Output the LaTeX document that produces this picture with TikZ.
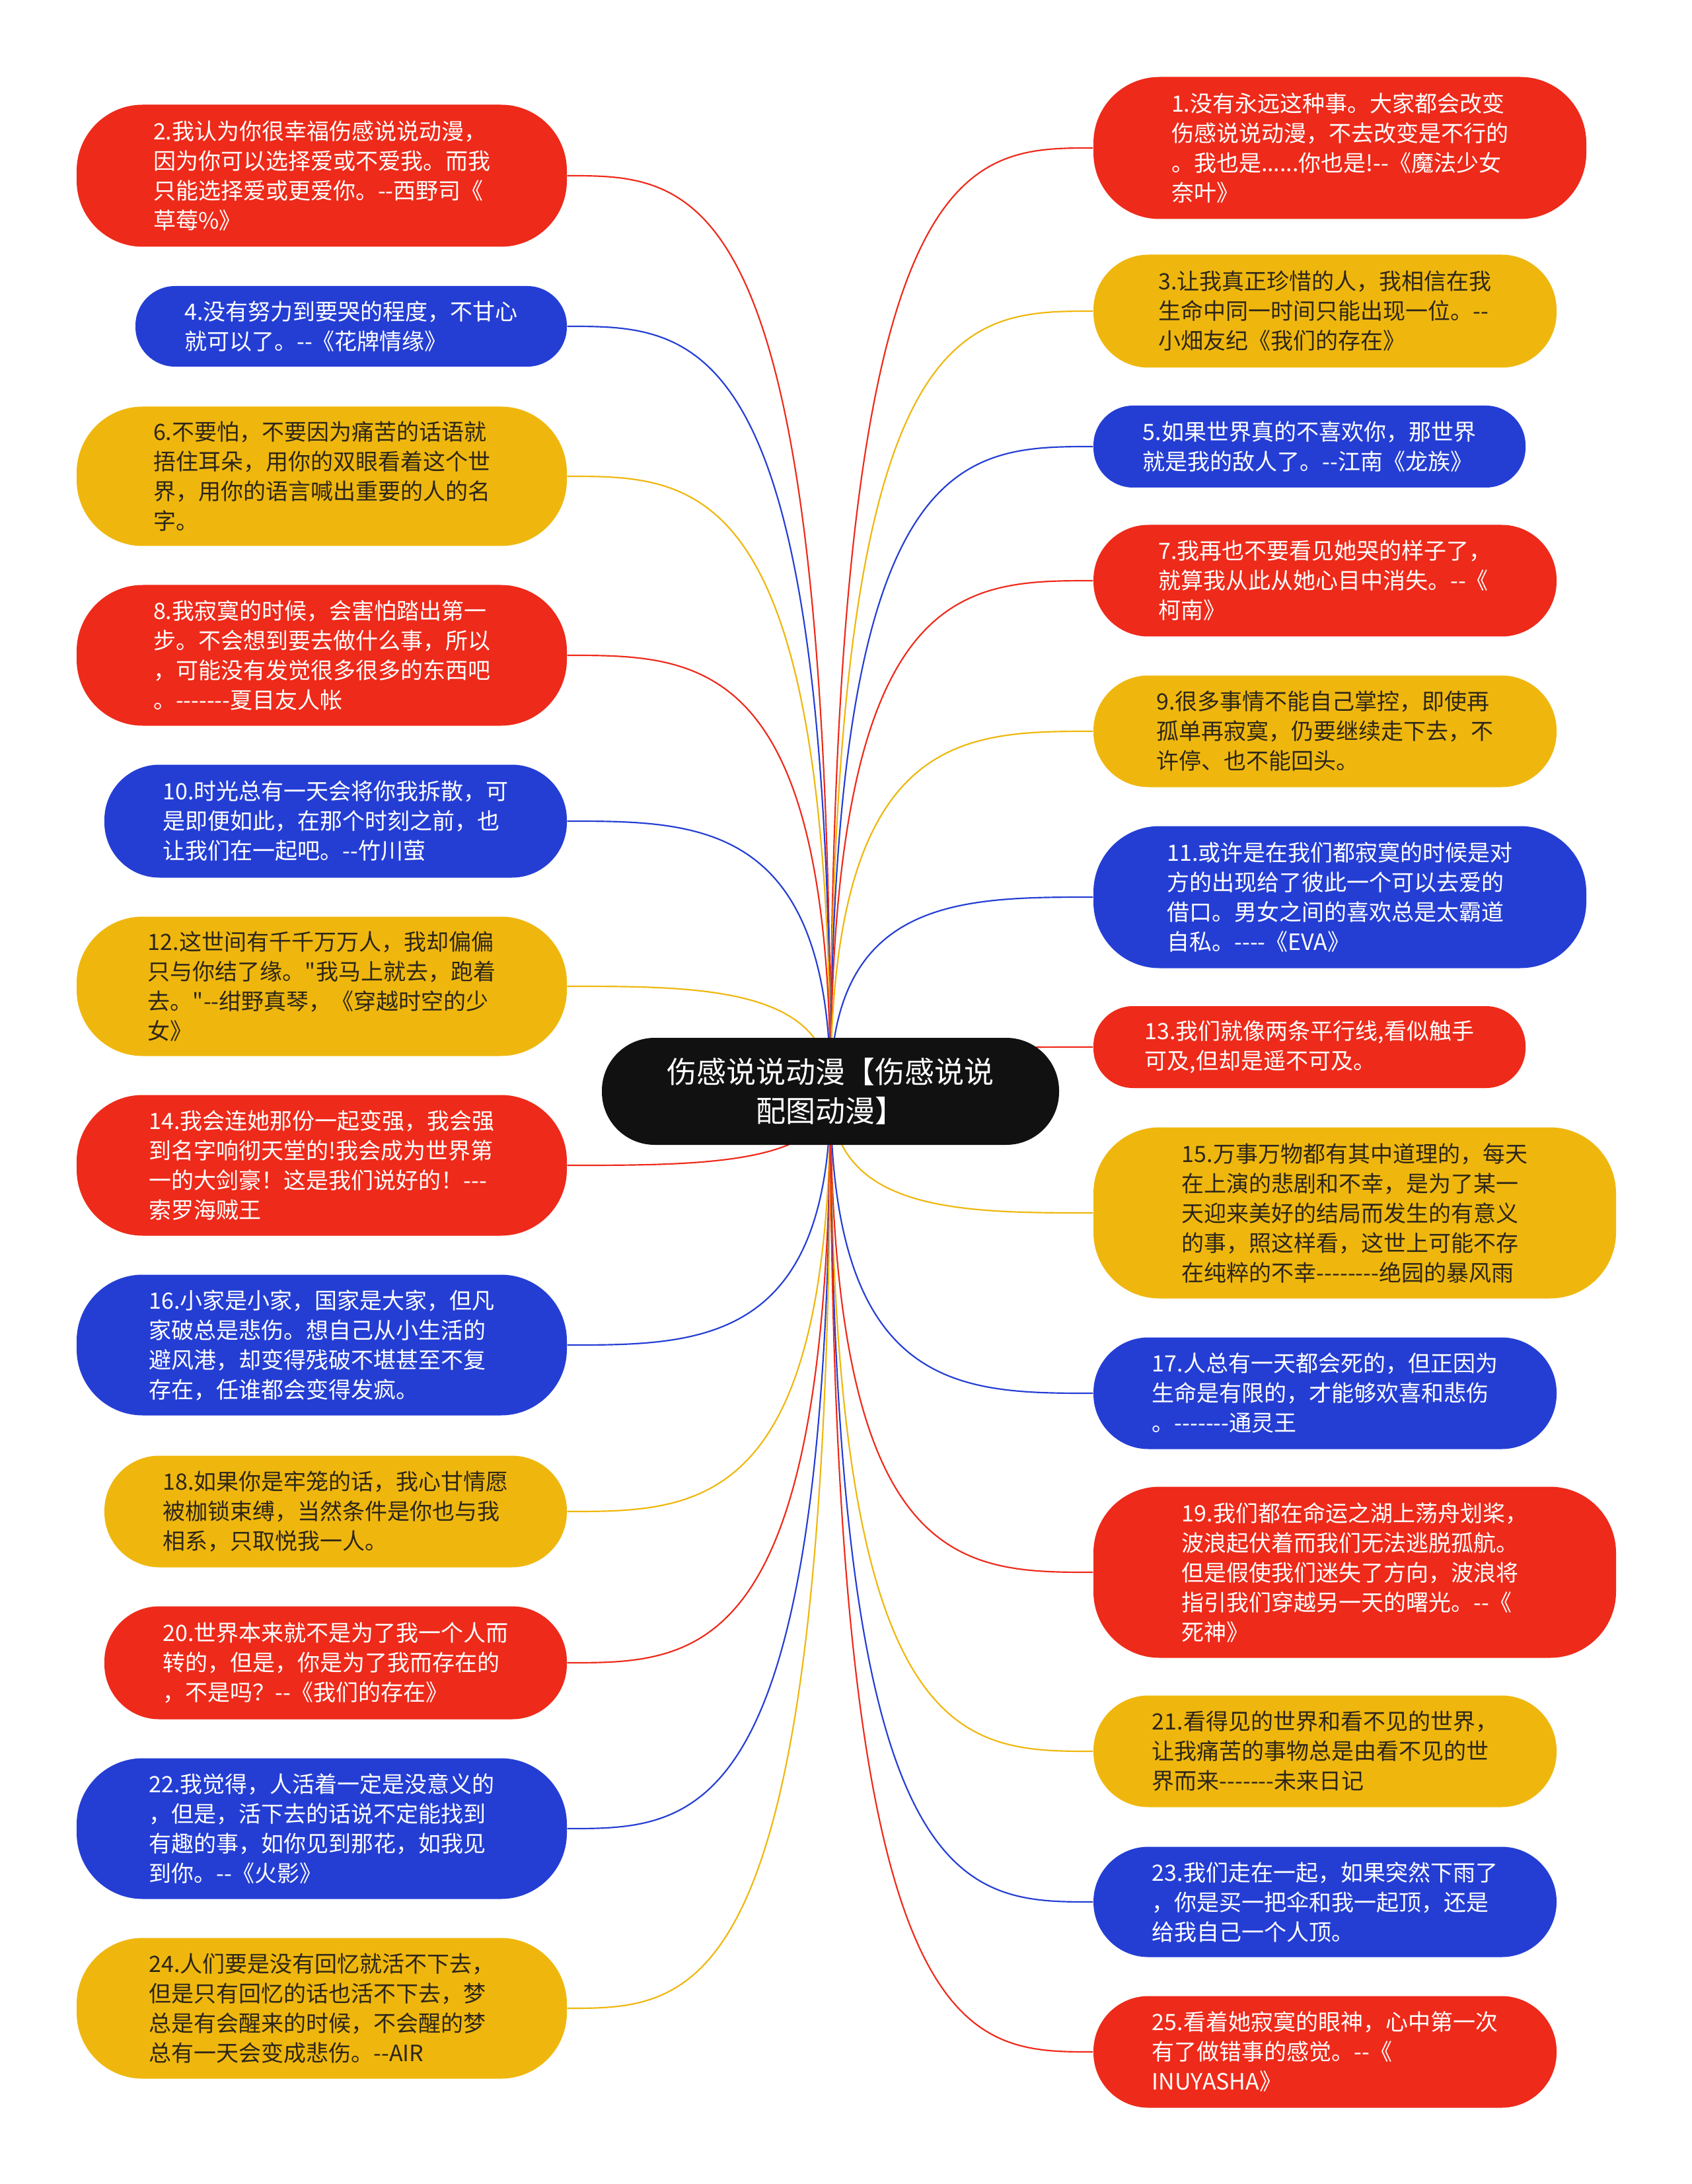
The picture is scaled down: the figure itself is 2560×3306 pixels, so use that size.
\documentclass[tikz,border=0pt]{standalone}
\usepackage{fontspec}
\newfontfamily\cjkf{Noto Sans CJK SC}
\usetikzlibrary{calc,backgrounds}
\definecolor{cred}{RGB}{238,42,26}
\definecolor{cblue}{RGB}{36,62,212}
\definecolor{cyel}{RGB}{239,183,14}
\definecolor{cdark}{RGB}{45,38,25}
\definecolor{cblack}{RGB}{17,17,17}
\newcommand\mylink[2]{\draw[link,#1] (c.center) .. controls (c.center |- #2) and ($(c.center |- #2)!0.5!(#2)$) .. (#2);}
\begin{document}
\begin{tikzpicture}[x=0.3pt,y=-0.3pt,
  box/.style={rectangle, align=left, inner sep=0pt, font=\cjkf\fontsize{10.2pt}{13.5pt}\selectfont},
  redbox/.style={box, fill=cred, text=white},
  bluebox/.style={box, fill=cblue, text=white},
  yelbox/.style={box, fill=cyel, text=cdark},
  rsa/.style={rounded corners=18pt},
  rsb/.style={rounded corners=25pt},
  rsc/.style={rounded corners=30pt},
  link/.style={line width=0.65pt},
  center/.style={rectangle, fill=cblack, text=white, align=center, rounded corners=24pt, inner sep=0pt,
    font=\cjkf\fontsize{13.5pt}{17.7pt}\selectfont, minimum width=207.6pt, minimum height=48.6pt}
]
\useasboundingbox (0,0) rectangle (2560,3306);

\node[center] (c) at (1257,1652) {伤感说说动漫【伤感说说\\配图动漫】};

% left column
\node[redbox, rsc, minimum width=222.6pt, minimum height=64.5pt] (n2) at (487,266)
 {2.我认为你很幸福伤感说说动漫，\\因为你可以选择爱或不爱我。而我\\只能选择爱或更爱你。--西野司《\\草莓\%》};
\node[bluebox, rsa, minimum width=195.9pt, minimum height=36.6pt] (n4) at (531.5,494)
 {4.没有努力到要哭的程度，不甘心\\就可以了。--《花牌情缘》};
\node[yelbox, rsc, minimum width=222.6pt, minimum height=63.3pt] (n6) at (487,721)
 {6.不要怕，不要因为痛苦的话语就\\捂住耳朵，用你的双眼看着这个世\\界，用你的语言喊出重要的人的名\\字。};
\node[redbox, rsc, minimum width=222.6pt, minimum height=63.9pt] (n8) at (487,992)
 {8.我寂寞的时候，会害怕踏出第一\\步。不会想到要去做什么事，所以\\，可能没有发觉很多很多的东西吧\\。-------夏目友人帐};
\node[bluebox, rsb, minimum width=210pt, minimum height=51.3pt] (n10) at (508,1243)
 {10.时光总有一天会将你我拆散，可\\是即便如此，在那个时刻之前，也\\让我们在一起吧。--竹川萤};
\node[yelbox, rsc, minimum width=222.6pt, minimum height=63.3pt] (n12) at (487,1493)
 {12.这世间有千千万万人，我却偏偏\\只与你结了缘。"我马上就去，跑着\\去。"--绀野真琴，《穿越时空的少\\女》};
\node[redbox, rsc, minimum width=222.6pt, minimum height=63.9pt] (n14) at (487,1764)
 {14.我会连她那份一起变强，我会强\\到名字响彻天堂的!我会成为世界第\\一的大剑豪！这是我们说好的！---\\索罗海贼王};
\node[bluebox, rsc, minimum width=222.6pt, minimum height=63.9pt] (n16) at (487,2036)
 {16.小家是小家，国家是大家，但凡\\家破总是悲伤。想自己从小生活的\\避风港，却变得残破不堪甚至不复\\存在，任谁都会变得发疯。};
\node[yelbox, rsb, minimum width=210pt, minimum height=50.7pt] (n18) at (508,2288)
 {18.如果你是牢笼的话，我心甘情愿\\被枷锁束缚，当然条件是你也与我\\相系，只取悦我一人。};
\node[redbox, rsb, minimum width=210pt, minimum height=51.3pt] (n20) at (508,2517)
 {20.世界本来就不是为了我一个人而\\转的，但是，你是为了我而存在的\\，不是吗？--《我们的存在》};
\node[bluebox, rsc, minimum width=222.6pt, minimum height=63.9pt] (n22) at (487,2768)
 {22.我觉得，人活着一定是没意义的\\，但是，活下去的话说不定能找到\\有趣的事，如你见到那花，如我见\\到你。--《火影》};
\node[yelbox, rsc, minimum width=222.6pt, minimum height=63.9pt] (n24) at (487,3040)
 {24.人们要是没有回忆就活不下去，\\但是只有回忆的话也活不下去，梦\\总是有会醒来的时候，不会醒的梦\\总有一天会变成悲伤。--AIR};

% right column
\node[redbox, rsc, minimum width=223.8pt, minimum height=64.5pt] (n1) at (2028,224)
 {1.没有永远这种事。大家都会改变\\伤感说说动漫，不去改变是不行的\\。我也是......你也是!--《魔法少女\\奈叶》};
\node[yelbox, rsb, minimum width=210.3pt, minimum height=51.3pt] (n3) at (2005.5,471)
 {3.让我真正珍惜的人，我相信在我\\生命中同一时间只能出现一位。--\\小畑友纪《我们的存在》};
\node[bluebox, rsa, minimum width=196.2pt, minimum height=37.2pt] (n5) at (1982,676)
 {5.如果世界真的不喜欢你，那世界\\就是我的敌人了。--江南《龙族》};
\node[redbox, rsb, minimum width=210.3pt, minimum height=50.7pt] (n7) at (2005.5,879)
 {7.我再也不要看见她哭的样子了，\\就算我从此从她心目中消失。--《\\柯南》};
\node[yelbox, rsb, minimum width=210.3pt, minimum height=50.7pt] (n9) at (2005.5,1107)
 {9.很多事情不能自己掌控，即使再\\孤单再寂寞，仍要继续走下去，不\\许停、也不能回头。};
\node[bluebox, rsc, minimum width=223.8pt, minimum height=64.5pt] (n11) at (2028,1358)
 {11.或许是在我们都寂寞的时候是对\\方的出现给了彼此一个可以去爱的\\借口。男女之间的喜欢总是太霸道\\自私。----《EVA》};
\node[redbox, rsa, minimum width=196.2pt, minimum height=37.2pt] (n13) at (1982,1585)
 {13.我们就像两条平行线,看似触手\\可及,但却是遥不可及。};
\node[yelbox, rsc, minimum width=237.3pt, minimum height=77.7pt] (n15) at (2050.5,1836)
 {15.万事万物都有其中道理的，每天\\在上演的悲剧和不幸，是为了某一\\天迎来美好的结局而发生的有意义\\的事，照这样看，这世上可能不存\\在纯粹的不幸--------绝园的暴风雨};
\node[bluebox, rsb, minimum width=210.3pt, minimum height=50.7pt] (n17) at (2005.5,2109)
 {17.人总有一天都会死的，但正因为\\生命是有限的，才能够欢喜和悲伤\\。-------通灵王};
\node[redbox, rsc, minimum width=237.3pt, minimum height=77.7pt] (n19) at (2050.5,2380)
 {19.我们都在命运之湖上荡舟划桨，\\波浪起伏着而我们无法逃脱孤航。\\但是假使我们迷失了方向，波浪将\\指引我们穿越另一天的曙光。--《\\死神》};
\node[yelbox, rsb, minimum width=210.3pt, minimum height=50.7pt] (n21) at (2005.5,2651)
 {21.看得见的世界和看不见的世界，\\让我痛苦的事物总是由看不见的世\\界而来-------未来日记};
\node[bluebox, rsb, minimum width=210.3pt, minimum height=50.1pt] (n23) at (2005.5,2879)
 {23.我们走在一起，如果突然下雨了\\，你是买一把伞和我一起顶，还是\\给我自己一个人顶。};
\node[redbox, rsb, minimum width=210.3pt, minimum height=50.7pt] (n25) at (2005.5,3106)
 {25.看着她寂寞的眼神，心中第一次\\有了做错事的感觉。--《\\INUYASHA》};

\begin{scope}[on background layer]
\fill[white] (0,0) rectangle (2560,3306);
\mylink{cred}{n2.east}
\mylink{cblue}{n4.east}
\mylink{cyel}{n6.east}
\mylink{cred}{n8.east}
\mylink{cblue}{n10.east}
\mylink{cyel}{n12.east}
\mylink{cred}{n14.east}
\mylink{cblue}{n16.east}
\mylink{cyel}{n18.east}
\mylink{cred}{n20.east}
\mylink{cblue}{n22.east}
\mylink{cyel}{n24.east}
\mylink{cred}{n1.west}
\mylink{cyel}{n3.west}
\mylink{cblue}{n5.west}
\mylink{cred}{n7.west}
\mylink{cyel}{n9.west}
\mylink{cblue}{n11.west}
\mylink{cred}{n13.west}
\mylink{cyel}{n15.west}
\mylink{cblue}{n17.west}
\mylink{cred}{n19.west}
\mylink{cyel}{n21.west}
\mylink{cblue}{n23.west}
\mylink{cred}{n25.west}
\end{scope}
\end{tikzpicture}
\end{document}
